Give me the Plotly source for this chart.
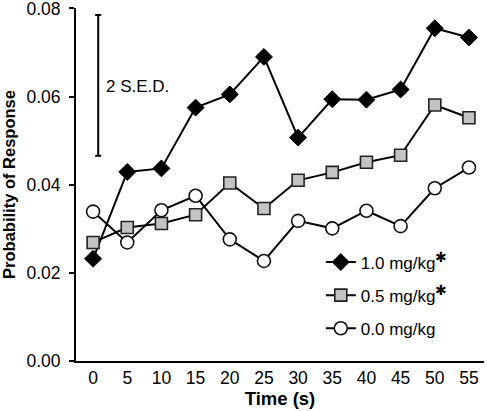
import plotly.graph_objects as go

time_s = [0, 5, 10, 15, 20, 25, 30, 35, 40, 45, 50, 55]
dose_1_0 = [0.0232, 0.0429, 0.0437, 0.0575, 0.0605, 0.0690, 0.0507, 0.0594, 0.0593, 0.0616, 0.0755, 0.0734]
dose_0_5 = [0.0269, 0.0303, 0.0312, 0.0332, 0.0404, 0.0346, 0.0410, 0.0428, 0.0451, 0.0467, 0.0581, 0.0552]
dose_0_0 = [0.0339, 0.0269, 0.0342, 0.0375, 0.0276, 0.0227, 0.0318, 0.0301, 0.0341, 0.0306, 0.0392, 0.0439]
series_names = ["1.0 mg/kg", "0.5 mg/kg", "0.0 mg/kg"]
significant = [True, True, False]

sed_x = [0.75]
sed_center = [0.06255]
sed_half = [0.01595]
sed_label = "2 S.E.D."

y_ticks = [0.00, 0.02, 0.04, 0.06, 0.08]
y_tick_text = ["0.00", "0.02", "0.04", "0.06", "0.08"]

FONT = "Liberation Sans, Arial, sans-serif"

fig = go.Figure()

styles = [
    dict(symbol="diamond", size=13, color="black", line=dict(color="black", width=1)),
    dict(symbol="square", size=12, color="#c3c3c3", line=dict(color="#222222", width=1.6)),
    dict(symbol="circle", size=13, color="white", line=dict(color="#111111", width=1.6)),
]

for i, (name, ys, st, sig) in enumerate(zip(series_names, [dose_1_0, dose_0_5, dose_0_0], styles, significant)):
    label = name + ("<sup><span style='font-size:14px'>✱</span></sup>" if sig else "")
    fig.add_trace(go.Scatter(
        x=time_s, y=ys, mode="lines+markers", name=label, legendgroup=f"g{i}",
        line=dict(color="black", width=2),
        marker=st,
    ))

fig.add_trace(go.Scatter(
    x=sed_x, y=sed_center, mode="markers", showlegend=False,
    marker=dict(size=1, color="rgba(0,0,0,0)"),
    error_y=dict(type="data", array=sed_half, symmetric=True, color="black", thickness=2, width=3),
    hoverinfo="skip",
))

fig.add_annotation(x=1.6, y=0.0622, text=sed_label, showarrow=False, xanchor="left",
                   font=dict(size=17, family=FONT, color="black"))

fig.update_layout(
    width=487, height=411,
    margin=dict(l=76, r=3, t=8, b=50),
    plot_bgcolor="white", paper_bgcolor="white",
    font=dict(family=FONT, size=17, color="black"),
    showlegend=True,
    legend=dict(x=0.60, y=0.33, xanchor="left", yanchor="top", bgcolor="rgba(0,0,0,0)",
                font=dict(size=17, family=FONT), tracegroupgap=8, traceorder="grouped",
                itemwidth=30),
    xaxis=dict(range=[-2.5, 57.2], tickvals=time_s, ticks="", showgrid=False, zeroline=False,
               showline=True, linecolor="black", linewidth=2, automargin=False,
               title=dict(text="<b>Time (s)</b>", standoff=4, font=dict(size=18.5, family=FONT)),
               tickfont=dict(size=17.5, family=FONT)),
    yaxis=dict(range=[0, 0.0801], tickvals=y_ticks, ticktext=y_tick_text, ticks="outside", ticklen=5,
               tickwidth=2, tickcolor="black", showgrid=False, zeroline=False,
               showline=True, linecolor="black", linewidth=2, automargin=False,
               ticklabeloverflow="allow", ticklabelstandoff=5,
               title=dict(text="<b>Probability of Response</b>", standoff=8, font=dict(size=16.5, family=FONT)),
               tickfont=dict(size=17.5, family=FONT)),
)

fig.write_html("out.html", config={"displayModeBar": False},
               post_script="document.body.style.margin='0';")
